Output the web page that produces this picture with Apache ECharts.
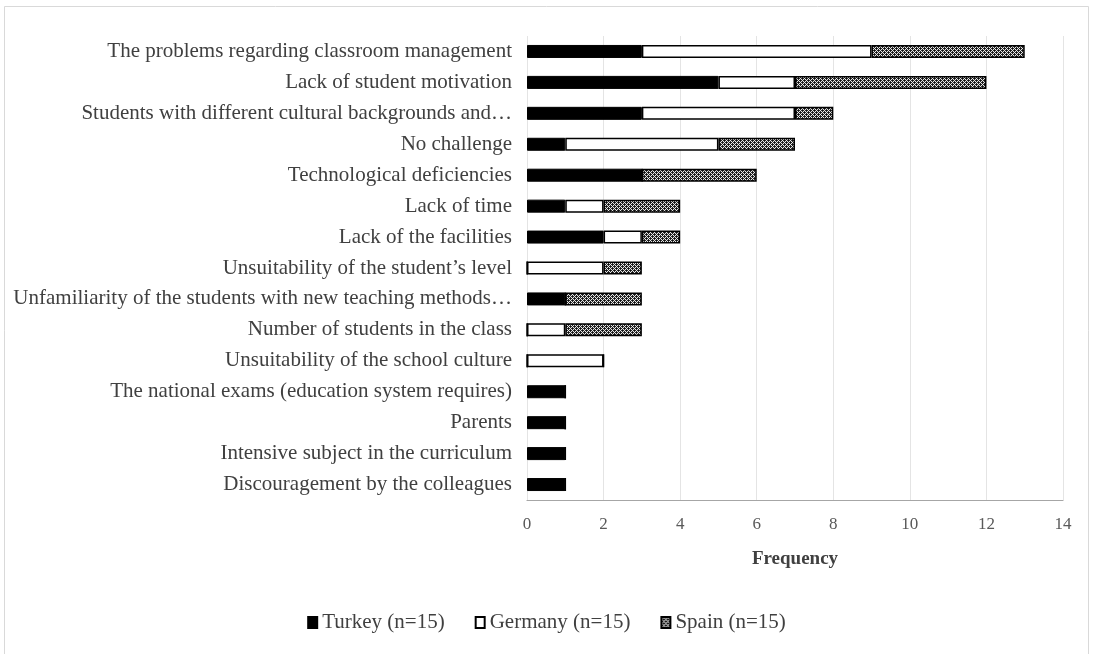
<!DOCTYPE html>
<html>
<head>
<meta charset="utf-8">
<script src="https://cdn.jsdelivr.net/npm/echarts@6/dist/echarts.min.js"></script>
<style>
html,body{margin:0;padding:0;background:#fff;}
#chart{width:1093px;height:654px;}
</style>
</head>
<body>
<div id="chart"></div>
<script>
const categories = [
  "The problems regarding classroom management",
  "Lack of student motivation",
  "Students with different cultural backgrounds and…",
  "No challenge",
  "Technological deficiencies",
  "Lack of time",
  "Lack of the facilities",
  "Unsuitability of the student’s level",
  "Unfamiliarity of the students with new teaching methods…",
  "Number of students in the class",
  "Unsuitability of the school culture",
  "The national exams (education system requires)",
  "Parents",
  "Intensive subject in the curriculum",
  "Discouragement by the colleagues"
];
const turkey  = [3, 5, 3, 1, 3, 1, 2, 0, 1, 0, 0, 1, 1, 1, 1];
const germany = [6, 2, 4, 4, 0, 1, 1, 2, 0, 1, 2, 0, 0, 0, 0];
const spain   = [4, 5, 1, 2, 3, 2, 1, 1, 2, 2, 0, 0, 0, 0, 0];
const seriesNames = ["Turkey (n=15)", "Germany (n=15)", "Spain (n=15)"];
const xTicks = [0, 2, 4, 6, 8, 10, 12, 14];

// crosshatch pattern for Spain
const pc = document.createElement('canvas');
pc.width = 4; pc.height = 4;
const g = pc.getContext('2d');
g.fillStyle = '#2a2a2a'; g.fillRect(0, 0, 4, 4);
g.fillStyle = '#e8e8e8';
[[0,0],[2,0],[1,1],[3,1],[0,2],[2,2],[1,3],[3,3]].forEach(p => g.fillRect(p[0], p[1], 1, 1));
g.fillStyle = '#111111';
[[0,0],[2,2]].forEach(p => g.fillRect(p[0], p[1], 1, 1));
const spainFill = { image: pc, repeat: 'repeat' };

const font = '"Liberation Serif", "Times New Roman", serif';
const chart = echarts.init(document.getElementById('chart'), null, { renderer: 'canvas' });

const barBase = { type: 'bar', stack: 'total', barWidth: 13 };

chart.setOption({
  animation: false,
  backgroundColor: '#ffffff',
  textStyle: { fontFamily: font, color: '#404040' },
  graphic: [{
    type: 'rect',
    shape: { x: 4.5, y: 6.5, width: 1084, height: 660 },
    style: { fill: 'none', stroke: '#d9d9d9', lineWidth: 1 },
    silent: true
  }],
  grid: { left: 527, right: 30, top: 36, bottom: 154, containLabel: false },
  legend: {
    bottom: 16,
    left: 'center',
    icon: 'rect',
    itemWidth: 9,
    itemHeight: 11,
    itemGap: 30,
    textStyle: { fontFamily: font, fontSize: 21, color: '#404040' },
    data: seriesNames
  },
  xAxis: {
    type: 'value',
    min: 0,
    max: 14,
    interval: 2,
    name: 'Frequency',
    nameLocation: 'middle',
    nameGap: 50,
    nameTextStyle: { fontFamily: font, fontSize: 19, fontWeight: 'bold', color: '#404040' },
    axisLine: { show: true, lineStyle: { color: '#a6a6a6', width: 1.2 } },
    axisTick: { show: false },
    axisLabel: {
      fontFamily: font, fontSize: 17, color: '#595959', margin: 16,
      formatter: v => (xTicks.indexOf(v) >= 0 ? String(v) : '')
    },
    splitLine: { show: true, lineStyle: { color: '#e4e4e4', width: 1 } }
  },
  yAxis: {
    type: 'category',
    inverse: true,
    data: categories,
    axisLine: { show: false },
    axisTick: { show: false },
    axisLabel: { fontFamily: font, fontSize: 21, color: '#404040', margin: 15 }
  },
  series: [
    Object.assign({}, barBase, {
      name: seriesNames[0], data: turkey,
      itemStyle: { color: '#000000', borderColor: '#000000', borderWidth: 1 }
    }),
    Object.assign({}, barBase, {
      name: seriesNames[1], data: germany,
      itemStyle: { color: '#ffffff', borderColor: '#000000', borderWidth: 1.5 }
    }),
    Object.assign({}, barBase, {
      name: seriesNames[2], data: spain,
      itemStyle: { color: spainFill, borderColor: '#000000', borderWidth: 1.5 }
    })
  ]
});
</script>
</body>
</html>
